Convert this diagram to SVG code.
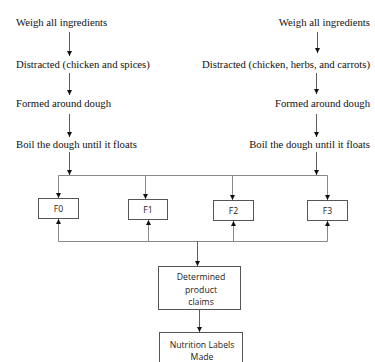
<svg xmlns="http://www.w3.org/2000/svg" width="375" height="362" viewBox="0 0 375 362">
  <defs>
    <marker id="arr" viewBox="0 0 6 6" refX="6" refY="3" markerWidth="5" markerHeight="5" markerUnits="userSpaceOnUse" orient="auto">
      <path d="M0,0 L6,3 L0,6 Z" fill="#111"/>
    </marker>
  </defs>
  <style>
    .step { font-family: "Liberation Serif", "Times New Roman", serif; font-size: 10.7px; fill: #111; }
    .lbl { font-family: "Open Sans", "Liberation Sans", Arial, sans-serif; font-size: 8.7px; fill: #222; text-anchor: middle; }
    .box { fill: #fff; stroke: #555; stroke-width: 1; }
    .ln { fill: none; stroke: #333; stroke-width: 0.8; }
    .bus { fill: none; stroke: #888; stroke-width: 1; }
  </style>
  <rect width="375" height="362" fill="#fff"/>

  <!-- process steps, left formulation -->
  <g id="left-steps">
    <text class="step" x="16" y="26">Weigh all ingredients</text>
    <text class="step" x="16" y="68">Distracted (chicken and spices)</text>
    <text class="step" x="16" y="107">Formed around dough</text>
    <text class="step" x="16" y="148">Boil the dough until it floats</text>
  </g>

  <!-- process steps, right formulation -->
  <g id="right-steps">
    <text class="step" x="370" y="26" text-anchor="end">Weigh all ingredients</text>
    <text class="step" x="370" y="68" text-anchor="end">Distracted (chicken, herbs, and carrots)</text>
    <text class="step" x="370" y="107" text-anchor="end">Formed around dough</text>
    <text class="step" x="370" y="148" text-anchor="end">Boil the dough until it floats</text>
  </g>

  <g id="F0"><rect class="box" x="38.5" y="198.5" width="40" height="20"/><text class="lbl" x="58.5" y="211.5">F0</text></g>
  <g id="F1"><rect class="box" x="128.5" y="199.5" width="39" height="20"/><text class="lbl" x="148" y="212.5">F1</text></g>
  <g id="F2"><rect class="box" x="213.5" y="200.5" width="40" height="20"/><text class="lbl" x="233.5" y="213.5">F2</text></g>
  <g id="F3"><rect class="box" x="307.5" y="200.5" width="40" height="20"/><text class="lbl" x="327.5" y="213.5">F3</text></g>

  <g id="claims">
    <rect class="box" x="158.5" y="266.5" width="82" height="43"/>
    <text class="lbl" x="201" y="280">Determined</text>
    <text class="lbl" x="201" y="293">product</text>
    <text class="lbl" x="201" y="305">claims</text>
  </g>

  <g id="labels">
    <rect class="box" x="159.5" y="332.5" width="83" height="40"/>
    <text class="lbl" x="202" y="347.5">Nutrition Labels</text>
    <text class="lbl" x="202" y="360">Made</text>
  </g>

  <g id="connectors">
    <!-- step arrows -->
    <line class="ln" x1="69.5" y1="32" x2="69.5" y2="56" marker-end="url(#arr)"/>
    <line class="ln" x1="69.5" y1="73" x2="69.5" y2="95" marker-end="url(#arr)"/>
    <line class="ln" x1="69.5" y1="114" x2="69.5" y2="137" marker-end="url(#arr)"/>
    <line class="ln" x1="69.5" y1="152" x2="69.5" y2="175" marker-end="url(#arr)"/>
    <line class="ln" x1="317.5" y1="32" x2="317.5" y2="53" marker-end="url(#arr)"/>
    <line class="ln" x1="316.5" y1="73" x2="316.5" y2="94" marker-end="url(#arr)"/>
    <line class="ln" x1="316.5" y1="114" x2="316.5" y2="137" marker-end="url(#arr)"/>
    <line class="ln" x1="316.5" y1="152" x2="316.5" y2="175" marker-end="url(#arr)"/>

    <!-- distribution bus to the formulations -->
    <line class="bus" x1="58.5" y1="175.5" x2="327.5" y2="175.5"/>
    <line class="bus" x1="58.5" y1="175.5" x2="58.5" y2="198" marker-end="url(#arr)"/>
    <line class="bus" x1="145.5" y1="175.5" x2="145.5" y2="199" marker-end="url(#arr)"/>
    <line class="bus" x1="232.5" y1="175.5" x2="232.5" y2="200" marker-end="url(#arr)"/>
    <line class="bus" x1="327.5" y1="175.5" x2="327.5" y2="200" marker-end="url(#arr)"/>

    <!-- collection bus from the formulations -->
    <line class="bus" x1="58.5" y1="241.5" x2="327.5" y2="241.5"/>
    <line class="bus" x1="58.5" y1="241.5" x2="58.5" y2="219" marker-end="url(#arr)"/>
    <line class="bus" x1="148.5" y1="241.5" x2="148.5" y2="220" marker-end="url(#arr)"/>
    <line class="bus" x1="233.5" y1="241.5" x2="233.5" y2="221" marker-end="url(#arr)"/>
    <line class="bus" x1="327.5" y1="241.5" x2="327.5" y2="221" marker-end="url(#arr)"/>

    <line class="ln" x1="197.5" y1="241.5" x2="197.5" y2="266" marker-end="url(#arr)"/>
    <line class="ln" x1="199.5" y1="310" x2="199.5" y2="332" marker-end="url(#arr)"/>
  </g>
</svg>
